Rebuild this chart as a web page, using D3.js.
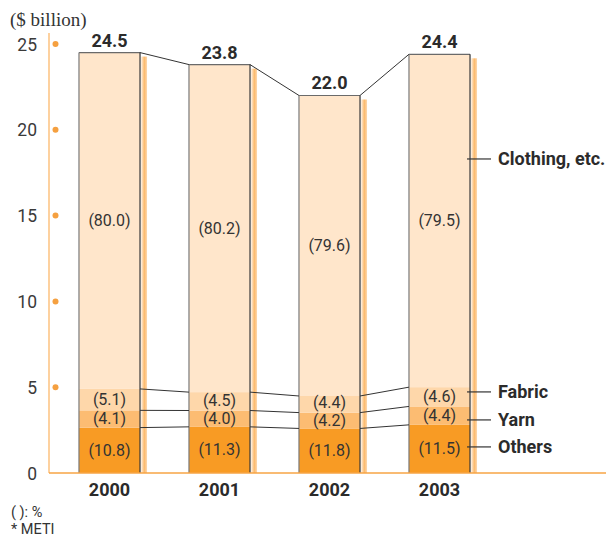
<!DOCTYPE html>
<html>
<head>
<meta charset="utf-8">
<script src="https://cdn.jsdelivr.net/npm/d3@7"></script>
<style>
  html, body { margin: 0; padding: 0; background: #fff; }
  svg { display: block; }
  text { font-family: Roboto, "Liberation Sans", sans-serif; fill: #2b2b2b; }
</style>
</head>
<body>
<svg id="chart" width="606" height="538"></svg>
<script>
// ---- data ----
const years = ["2000", "2001", "2002", "2003"];
const totals = [24.5, 23.8, 22.0, 24.4];          // $ billion
const othersPct = [10.8, 11.3, 11.8, 11.5];       // %
const yarnPct = [4.1, 4.0, 4.2, 4.4];
const fabricPct = [5.1, 4.5, 4.4, 4.6];
const clothingPct = [80.0, 80.2, 79.6, 79.5];
const seriesNames = ["Others", "Yarn", "Fabric", "Clothing, etc."];
const seriesColors = ["#F89B24", "#FCBC72", "#FED7AA", "#FFE6CB"];
const yTicks = [0, 5, 10, 15, 20, 25];
const unitLabel = "($ billion)";
const notes = ["( ): %", "* METI"];

// ---- layout ----
const svg = d3.select("#chart");
const x = d3.scaleBand().domain(years).range([54.5, 494.5]).paddingInner(0.445).paddingOuter(0.2225);
const y = d3.scaleLinear().domain([0, 25]).range([473, 44]);
const bw = x.bandwidth();

const pctSeries = [othersPct, yarnPct, fabricPct, clothingPct];
// stacked values in $ billion
const stacks = years.map((yr, i) => {
  let cum = 0;
  return pctSeries.map((s, k) => {
    const v = totals[i] * s[i] / 100;
    const seg = { year: yr, k, pct: s[i], y0: cum, y1: cum + v };
    cum += v;
    return seg;
  });
});

// gradient for shadow strip
const defs = svg.append("defs");
const g = defs.append("linearGradient").attr("id", "shade").attr("x1", "0").attr("x2", "1").attr("y1", "0").attr("y2", "0");
g.append("stop").attr("offset", "0").attr("stop-color", "#FFF3E6");
g.append("stop").attr("offset", "0.55").attr("stop-color", "#FCBA6C");
g.append("stop").attr("offset", "1").attr("stop-color", "#FDD8AE");

// unit label
svg.append("text").attr("x", 10).attr("y", 26)
  .style("font-family", "'Liberation Serif', 'DejaVu Serif', serif")
  .style("font-size", "19px").style("fill", "#333").text(unitLabel);

// y axis line
svg.append("line").attr("x1", 49).attr("x2", 49).attr("y1", 33).attr("y2", y(0))
  .attr("stroke", "#FCC27F").attr("stroke-width", 1.5);

// ticks
yTicks.forEach(t => {
  svg.append("text").attr("x", 37).attr("y", y(t) + 6.5).attr("text-anchor", "end")
    .style("font-size", "17.5px").style("fill", "#3a3a3a").text(t);
  if (t > 0) {
    svg.append("circle").attr("cx", 55.5).attr("cy", y(t)).attr("r", 3).attr("fill", "#F5A040");
  }
});

// shadow strips
years.forEach((yr, i) => {
  svg.append("rect").attr("x", x(yr) + bw + 1).attr("y", y(totals[i]) + 4)
    .attr("width", 6).attr("height", y(0) - y(totals[i]) - 4).attr("fill", "url(#shade)");
});

// bar segments
stacks.forEach(st => {
  st.forEach(s => {
    svg.append("rect").attr("x", x(s.year)).attr("y", y(s.y1))
      .attr("width", bw).attr("height", y(s.y0) - y(s.y1))
      .attr("fill", seriesColors[s.k]);
  });
});

// bar outlines
years.forEach((yr, i) => {
  const x0 = x(yr), x1 = x(yr) + bw, yt = y(totals[i]);
  svg.append("line").attr("x1", x0).attr("x2", x1).attr("y1", yt).attr("y2", yt).attr("stroke", "#6a6a6a").attr("stroke-width", 1.2);
  svg.append("line").attr("x1", x0).attr("x2", x0).attr("y1", yt).attr("y2", y(0)).attr("stroke", "#7a7a7a").attr("stroke-width", 1.2);
  svg.append("line").attr("x1", x1).attr("x2", x1).attr("y1", yt).attr("y2", y(0)).attr("stroke", "#333").attr("stroke-width", 1.2);
});

// connector lines between consecutive bars
for (let i = 0; i < years.length - 1; i++) {
  for (let k = 0; k < 4; k++) {
    svg.append("line")
      .attr("x1", x(years[i]) + bw).attr("y1", y(stacks[i][k].y1))
      .attr("x2", x(years[i + 1])).attr("y2", y(stacks[i + 1][k].y1))
      .attr("stroke", "#333").attr("stroke-width", 1);
  }
}

// baseline
svg.append("line").attr("x1", 49).attr("x2", 606).attr("y1", y(0)).attr("y2", y(0))
  .attr("stroke", "#F7A445").attr("stroke-width", 1.5);

// segment percent labels (with a minimum vertical gap so they do not collide)
const minGap = 18;
stacks.forEach(st => {
  let prevCy = Infinity;
  st.forEach(s => {
    let cy = (y(s.y0) + y(s.y1)) / 2;
    if (cy > prevCy - minGap) cy = prevCy - minGap;
    prevCy = cy;
    svg.append("text").attr("x", x(s.year) + bw / 2).attr("y", cy + 5.5)
      .attr("text-anchor", "middle").style("font-size", "16px").style("fill", "#333")
      .text("(" + s.pct.toFixed(1) + ")");
  });
});

// totals and year labels
years.forEach((yr, i) => {
  svg.append("text").attr("x", x(yr) + bw / 2).attr("y", y(totals[i]) - 6)
    .attr("text-anchor", "middle").style("font-size", "18px").style("font-weight", "bold")
    .text(totals[i].toFixed(1));
  svg.append("text").attr("x", x(yr) + bw / 2).attr("y", 496)
    .attr("text-anchor", "middle").style("font-size", "18px").style("font-weight", "bold")
    .text(yr);
});

// legend labels at right of last bar
const last = stacks[stacks.length - 1];
const othersY = (y(last[0].y0) + y(last[0].y1)) / 2 - 2;
const legendY = [othersY, othersY - 27, othersY - 55, y(18.3)];
const lx = x(years[years.length - 1]) + bw - 3;
seriesNames.forEach((n, k) => {
  svg.append("line").attr("x1", lx).attr("x2", lx + 24).attr("y1", legendY[k]).attr("y2", legendY[k])
    .attr("stroke", "#333").attr("stroke-width", 1.2);
  svg.append("text").attr("x", lx + 31).attr("y", legendY[k] + 6.5)
    .style("font-size", "18px").style("font-weight", "bold").style("fill", "#2b2b2b").text(n);
});

// notes
svg.append("text").attr("x", 11).attr("y", 517).style("font-size", "14.5px").style("fill", "#333").text(notes[0]);
svg.append("text").attr("x", 11).attr("y", 534).style("font-size", "14.5px").style("fill", "#333").text(notes[1]);
</script>
</body>
</html>
